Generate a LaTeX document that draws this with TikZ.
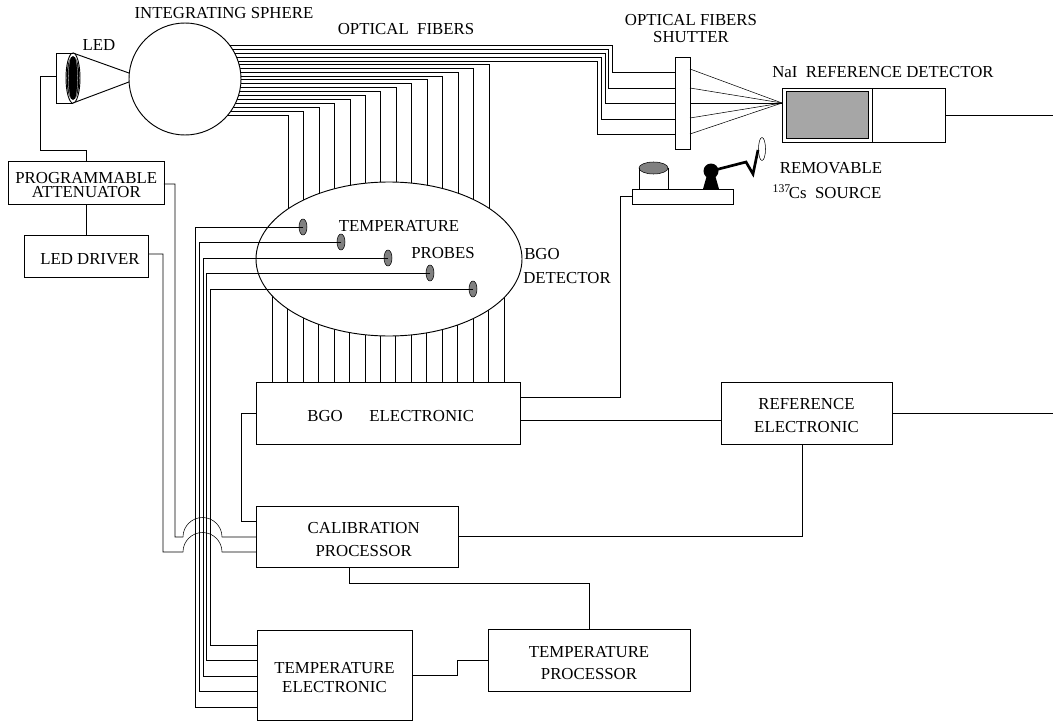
\documentclass[tikz,border=0pt]{standalone}
\usepackage{fontspec}
\setmainfont{Liberation Serif}
\usetikzlibrary{shapes.geometric, backgrounds}

\newcommand{\topgap}{\rule{0pt}{12.2pt}}

\tikzset{
    wirebox/.style={draw, rectangle, fill=white, inner sep=0pt, outer sep=0pt, align=center},
    lab/.style={inner sep=0pt, align=center, yshift=-0.75pt},
    probe/.style={draw, ellipse, fill=black!50, inner sep=0pt, outer sep=0pt, minimum width=6pt, minimum height=12pt},
    ring/.style={draw, ellipse, inner sep=0pt, outer sep=0pt}
}

\begin{document}
\begin{tikzpicture}[x=0.75pt, y=-0.75pt, line width=0.7pt, font=\fontsize{12.6}{10.5}\selectfont]
    \useasboundingbox (0,0) rectangle (1053,721);

    \node[draw, circle, fill=white, inner sep=0pt, outer sep=0pt, minimum size=84pt] (sphere) at (185,79) {};
    \node[ring, fill=white, minimum width=199.5pt, minimum height=115.5pt] (detector) at (389,259) {};

    \node[wirebox, minimum width=116.5pt, minimum height=32.25pt] (atten) at (86.3,182.5) {\topgap PROGRAMMABLE\\ATTENUATOR};
    \node[wirebox, minimum width=93pt, minimum height=31.5pt] (driver) at (86,256) {\topgap\hspace*{6pt}LED DRIVER};
    \node[wirebox, minimum width=198pt, minimum height=46.5pt] (bgoelec) at (388,413) {\topgap\hspace*{4pt}BGO\hspace{20pt}ELECTRONIC};
    \node[wirebox, minimum width=151.5pt, minimum height=45.75pt] (calib) at (357,536.5) {\topgap\hspace*{10pt}CALIBRATION\\[6.7pt]\hspace*{10pt}PROCESSOR};
    \node[wirebox, minimum width=128.25pt, minimum height=46.5pt] (refelec) at (806.5,413) {\topgap REFERENCE\\[6.7pt]ELECTRONIC};
    \node[wirebox, minimum width=151.5pt, minimum height=46.5pt] (tproc) at (589,660) {\topgap TEMPERATURE\\[6pt]PROCESSOR};
    \node[wirebox, minimum width=116.25pt, minimum height=67.5pt] (telec) at (334.5,675) {\topgap TEMPERATURE\\[3.5pt]ELECTRONIC};

    \node[wirebox, minimum width=11.25pt, minimum height=69pt] (shutter) at (682.5,103) {};
    \node[wirebox, minimum width=122.25pt, minimum height=40.5pt] (naiout) at (863.5,115) {};
    \node[wirebox, fill=black!35, minimum width=61.5pt, minimum height=35.25pt] (naiin) at (827,114.5) {};
    \draw (872,0 |- naiout.north) -- (872,0 |- naiout.south);
    \draw (naiout.east) -- (1053,115) coordinate (outnai);
    \draw (refelec.east) -- (1053,413) coordinate (outref);

    \node[ring, minimum width=10.5pt, minimum height=37.5pt] (ledlens) at (73,78) {};
    \node[ellipse, fill=black, inner sep=0pt, minimum width=9.6pt, minimum height=33pt] (ledcore) at (73,78) {};
    \node[ring, draw=white, line width=0.2pt, minimum width=7pt, minimum height=37pt] (ledglass) at (73,78) {};
    \draw (ledlens.north) -| (56,103) -- (ledlens.south);
    \draw (ledlens.north) -- (sphere.174);
    \draw (ledlens.south) -- (sphere.183);
    \draw (atten.north) |- (40,150) |- (56,76);
    \draw (atten.south) -- (atten.south |- driver.north);

    \begin{pgfonlayer}{background}
        \foreach \i [evaluate=\i as \fx using 288+15.46*\i, evaluate=\i as \fy using 115-3.92*\i] in {0,...,13}
            \draw (sphere |- 0,\fy) -| (\fx,0 |- detector);
        \foreach \i [evaluate=\i as \fx using 272+15.47*\i] in {0,...,15}
            \draw (\fx,0 |- detector) -- (\fx,0 |- bgoelec.north);
        \foreach \fx/\fy/\sy in {612/45/72, 608/49/88, 605/53/103, 601/57/119, 597/61/134}
            \draw (sphere |- 0,\fy) -| (\fx,\sy) -- (shutter.west |- 0,\sy);
    \end{pgfonlayer}

    \coordinate (focus) at (naiout.west |- shutter);
    \foreach \sy in {69,88,103,118,134}
        \draw (shutter.east |- 0,\sy) -- (focus);

    \foreach \n/\px/\py/\vx/\vy in {a/303/227/195/707, b/341/242/199/691, c/388/258/203/676, d/430/273/206/660, e/473/289/210/645} {
        \node[probe] (probe\n) at (\px,\py) {};
        \draw (probe\n.center) -| (\vx,\vy) -- (telec.west |- 0,\vy);
    }

    \draw (atten.east |- 0,184) -| (175,537) -- (183,537) arc[start angle=180, end angle=360, radius=19.5] -- (calib.west |- 0,537);
    \draw (driver.east |- 0,254) -| (163,552) -- (183,552) arc[start angle=180, end angle=360, radius=19.5] -- (calib.west |- 0,552);

    \draw (bgoelec.west) -| (241,521) -- (calib.west |- 0,521);
    \draw (bgoelec.east |- 0,420) -- (refelec.west |- 0,420);
    \draw (calib.east) -| (802,0 |- refelec.south);
    \draw (349,0 |- calib.south) |- (589,583) -- (589,0 |- tproc.north);
    \draw (telec.east) -| (457,660) -- (tproc.west);

    \node[wirebox, minimum width=75.75pt, minimum height=11.25pt] (bench) at (682.5,196.5) {};
    \draw (bgoelec.east |- 0,397) -| (620,196.5) -- (bench.west);
    \node[ring, fill=black!50, minimum width=21.75pt, minimum height=9pt] (vial) at (653.5,168) {};
    \draw (vial.west) -- (vial.west |- bench.north);
    \draw (vial.east) -- (vial.east |- bench.north);
    \node[circle, fill=black, inner sep=0pt, minimum size=11.25pt] (pivot) at (711,171) {};
    \fill (707,175) -- (715,175) -- (719,189) -- (703,189) -- cycle;
    \draw[line width=2pt] (pivot.center) -- (746,162) -- (753,174) -- (758,150);
    \node[ring, minimum width=5.25pt, minimum height=17.25pt] (srcdisc) at (762,149) {};

    \node[lab] (sphlab) at (224,12) {INTEGRATING SPHERE};
    \node[lab] (ledlab) at (99,44) {LED};
    \node[lab] (fiblab) at (406,28) {OPTICAL\ \ FIBERS};
    \node[lab] (shutlab) at (691,27.5) {OPTICAL FIBERS\\[2pt]SHUTTER};
    \node[lab] (nailab) at (883,71) {NaI\ \ REFERENCE DETECTOR};
    \node[lab] (remlab) at (831,167) {REMOVABLE};
    \node[lab] (cslab) at (827,191) {\textsuperscript{137}\kern-1.5ptCs\ \ SOURCE};
    \node[lab] (templab) at (399,225) {TEMPERATURE};
    \node[lab] (problab) at (443,252) {PROBES};
    \node[lab] (bgolab) at (542,253) {BGO};
    \node[lab] (detlab) at (567,277) {DETECTOR};
\end{tikzpicture}
\end{document}
